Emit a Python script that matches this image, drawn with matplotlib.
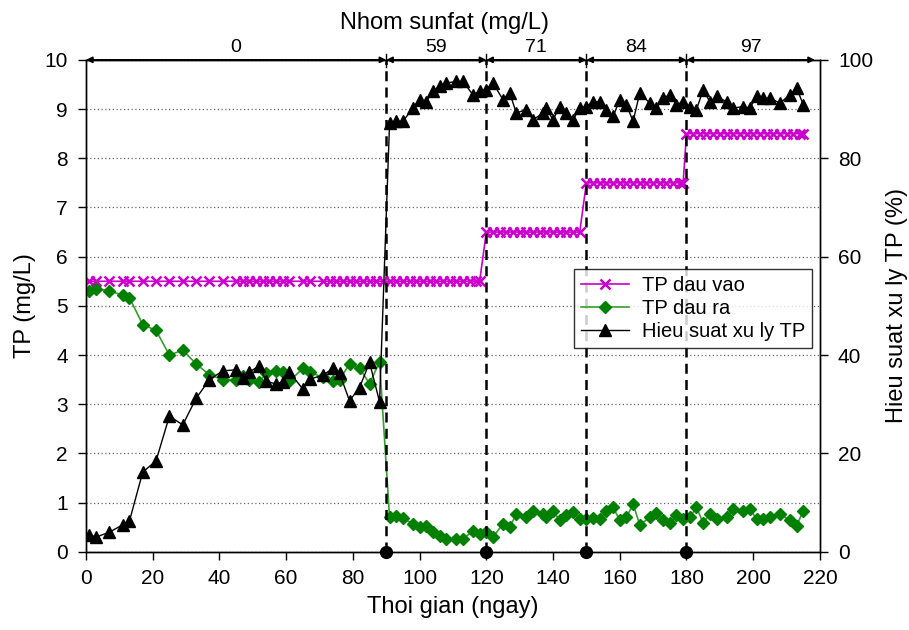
import matplotlib
matplotlib.use("Agg")
from matplotlib import pyplot as plt

plt.rcParams['font.family'] = ['Liberation Sans', 'DejaVu Sans']

# sampling days for outlet TP and removal efficiency
days = [1, 3, 7, 11, 13, 17, 21, 25, 29, 33, 37, 41, 45, 47, 49, 52, 54, 57, 59, 61,
        65, 67, 71, 74, 76, 79, 82, 85, 88,
        91, 93, 95, 98, 100, 102, 104, 106, 108, 111, 113, 116, 118, 120, 122, 125,
        127, 129, 132, 134, 137, 138, 140, 142, 144, 146, 148,
        150, 152, 154, 156, 158, 160, 162, 164, 166, 169, 171, 173, 175, 177, 179,
        181, 183, 185, 187, 189, 192, 194, 197, 199, 201, 203, 205, 208, 211, 213, 215]

tp_out = [5.30, 5.35, 5.30, 5.22, 5.17, 4.62, 4.50, 4.00, 4.10, 3.82, 3.60, 3.50, 3.50,
          3.58, 3.50, 3.45, 3.63, 3.68, 3.65, 3.47, 3.73, 3.65, 3.55, 3.47, 3.50, 3.82,
          3.73, 3.42, 3.86,
          0.70, 0.72, 0.68, 0.57, 0.50, 0.53, 0.40, 0.33, 0.26, 0.26, 0.26, 0.43, 0.36,
          0.40, 0.30, 0.57, 0.50, 0.77, 0.70, 0.84, 0.77, 0.70, 0.84, 0.64, 0.74, 0.82,
          0.67,
          0.67, 0.68, 0.67, 0.84, 0.91, 0.64, 0.70, 0.97, 0.55, 0.70, 0.80, 0.64, 0.58,
          0.74, 0.67, 0.70, 0.91, 0.58, 0.77, 0.67, 0.70, 0.87, 0.84, 0.87, 0.67, 0.67,
          0.70, 0.77, 0.64, 0.53, 0.83]

efficiency = [3.5, 3.0, 4.0, 5.5, 6.2, 16.2, 18.5, 27.6, 25.8, 31.2, 35.0, 36.8, 37.0,
              35.4, 36.6, 37.8, 34.7, 34.1, 34.6, 36.5, 33.1, 35.1, 35.9, 37.3, 36.3,
              30.7, 33.4, 38.5, 30.5,
              87.2, 87.5, 87.5, 90.2, 91.9, 91.5, 93.6, 94.6, 95.3, 95.6, 95.6, 92.9,
              93.6, 93.9, 95.3, 91.9, 93.3, 89.2, 89.9, 87.8, 89.2, 90.2, 87.8, 90.5,
              89.2, 87.8, 90.2,
              90.5, 91.5, 91.5, 89.9, 88.5, 91.9, 90.9, 87.5, 93.3, 91.2, 90.2, 92.2,
              92.9, 90.9, 91.5, 90.5, 89.9, 93.9, 91.5, 92.6, 91.5, 90.2, 90.5, 90.2,
              92.6, 92.2, 92.2, 91.2, 92.9, 94.3, 90.9]

# inlet TP (sampled more often in the first phase)
days_in = [1, 3, 7, 11, 13, 17, 21, 25, 29, 33, 37, 41, 45, 47, 49, 51, 53, 55, 57, 59,
           61, 65, 67, 71, 73, 75, 77, 79, 81, 83, 85, 87, 89,
           91, 93, 95, 97, 99, 101, 103, 105, 107, 109, 111, 113, 115, 117, 118,
           120, 122, 124, 126, 128, 130, 132, 134, 136, 138, 140, 142, 144, 146, 148,
           150, 152, 154, 156, 158, 160, 162, 164, 166, 168, 170, 172, 174, 176, 178, 179,
           180, 182, 184, 186, 188, 190, 192, 194, 196, 198, 200, 202, 204, 206, 208,
           210, 212, 214, 215]
tp_in = [5.5, 5.5, 5.5, 5.5, 5.5, 5.5, 5.5, 5.5, 5.5, 5.5, 5.5, 5.5, 5.5, 5.5, 5.5, 5.5,
         5.5, 5.5, 5.5, 5.5, 5.5, 5.5, 5.5, 5.5, 5.5, 5.5, 5.5, 5.5, 5.5, 5.5, 5.5, 5.5,
         5.5,
         5.5, 5.5, 5.5, 5.5, 5.5, 5.5, 5.5, 5.5, 5.5, 5.5, 5.5, 5.5, 5.5, 5.5, 5.5,
         6.5, 6.5, 6.5, 6.5, 6.5, 6.5, 6.5, 6.5, 6.5, 6.5, 6.5, 6.5, 6.5, 6.5, 6.5,
         7.5, 7.5, 7.5, 7.5, 7.5, 7.5, 7.5, 7.5, 7.5, 7.5, 7.5, 7.5, 7.5, 7.5, 7.5, 7.5,
         8.5, 8.5, 8.5, 8.5, 8.5, 8.5, 8.5, 8.5, 8.5, 8.5, 8.5, 8.5, 8.5, 8.5, 8.5,
         8.5, 8.5, 8.5, 8.5]

# alum dose phases
phase_bounds = [0, 90, 120, 150, 180, 218.5]
phase_labels = ['0', '59', '71', '84', '97']

fig = plt.figure(figsize=(9.09, 6.3), dpi=100)
ax = fig.add_axes([0.0946, 0.124, 0.8074, 0.781])
ax2 = ax.twinx()

l1, = ax.plot(days_in, tp_in, color='#cc00cc', marker='x', markersize=7, mew=1.8,
              lw=1.2, label='TP dau vao', zorder=4)
l2, = ax.plot(days, tp_out, color='#33a02c', marker='D', markersize=6.5,
              mfc='#008000', mec='#008000', lw=1.2, label='TP dau ra', zorder=4)
l3, = ax2.plot(days, efficiency, color='black', marker='^', markersize=8, lw=1.0,
               label='Hieu suat xu ly TP', zorder=4)

# phase boundaries
for b in phase_bounds[1:-1]:
    ax.plot([b, b], [0, 10], color='black', ls=(0, (4, 2.5)), lw=1.8, zorder=5,
            clip_on=False)
    ax.plot([b], [0], 'o', color='black', markersize=8.5, clip_on=False, zorder=6)
    ax.plot([b, b], [9.85, 10.12], color='black', lw=1, clip_on=False)

for i in range(len(phase_labels)):
    x0, x1 = phase_bounds[i], phase_bounds[i + 1]
    ax.annotate('', xy=(x0, 10), xytext=(x1, 10), annotation_clip=False,
                arrowprops=dict(arrowstyle='<|-|>', color='black', lw=1.2,
                                mutation_scale=9, shrinkA=0, shrinkB=0))
    ax.text((x0 + x1) / 2, 10.08, phase_labels[i], ha='center', va='bottom',
            fontsize=14)
ax.text(107.6, 10.75, 'Nhom sunfat (mg/L)', ha='center', va='center', fontsize=17)

ax.set_xlim(0, 220)
ax.set_ylim(0, 10)
ax2.set_ylim(0, 100)
ax.set_xticks(range(0, 221, 20))
ax.set_yticks(range(0, 11))
ax2.set_yticks(range(0, 101, 20))
ax.yaxis.grid(True, ls=(0, (1, 2)), color='#666666', lw=0.9)
ax.set_axisbelow(True)

for a in (ax, ax2):
    a.tick_params(direction='out', labelsize=15, length=6, width=1, pad=7)
    for s in a.spines.values():
        s.set_linewidth(1)
ax.tick_params(axis='x', pad=6)

ax.set_xlabel('Thoi gian (ngay)', fontsize=17, labelpad=6)
ax.set_ylabel('TP (mg/L)', fontsize=17, labelpad=6)
ax2.set_ylabel('Hieu suat xu ly TP (%)', fontsize=17, labelpad=9)

leg = ax2.legend(handles=[l1, l2, l3], loc='center right',
                 bbox_to_anchor=(0.989, 0.495), fontsize=14.5, frameon=True,
                 fancybox=False, edgecolor='black', handlelength=2.4,
                 handletextpad=0.6, borderpad=0.35, labelspacing=0.2,
                 borderaxespad=0)
leg.get_frame().set_linewidth(1)

fig.savefig('out.png', dpi=100)
